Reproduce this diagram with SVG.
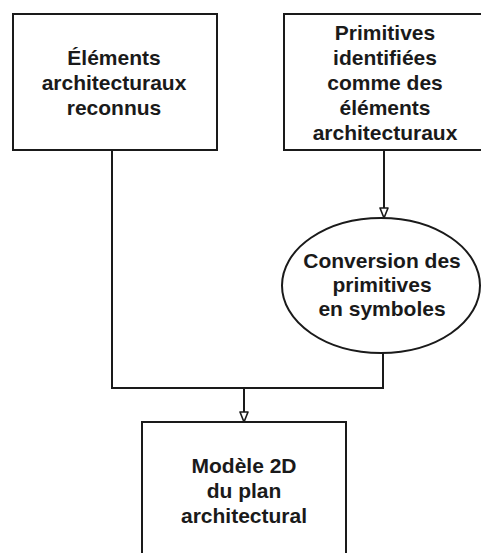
<svg xmlns="http://www.w3.org/2000/svg" width="481" height="553" viewBox="0 0 481 553">
<style>
.box{fill:#fff;stroke:#1a1a1a;stroke-width:2}
.ln{fill:none;stroke:#1a1a1a;stroke-width:2}
text{font-family:"Liberation Sans",Arial,sans-serif;font-weight:bold;font-size:21px;fill:#1a1a1a;text-anchor:middle}
</style>
<defs>
<marker id="arr" viewBox="0 0 12 10" refX="11" refY="5" markerWidth="12" markerHeight="10" markerUnits="userSpaceOnUse" orient="auto">
<path d="M1,1 L11,5 L1,9 Z" fill="#fff" stroke="#1a1a1a" stroke-width="1.6" stroke-linejoin="round"/>
</marker>
</defs>
<rect width="481" height="553" fill="#fff"/>
<g id="connectors">
<path class="ln" d="M112,150 V388 H383 V353"/>
<path class="ln" d="M384,150 V218" marker-end="url(#arr)"/>
<path class="ln" d="M244,388 V422" marker-end="url(#arr)"/>
</g>
<g id="n1">
<rect class="box" x="13" y="14" width="204" height="136"/>
<text x="114" y="65">Éléments</text>
<text x="114" y="90">architecturaux</text>
<text x="114" y="115">reconnus</text>
</g>
<g id="n2">
<rect class="box" x="284" y="14" width="200" height="136"/>
<text x="385" y="40">Primitives</text>
<text x="385" y="65">identifiées</text>
<text x="385" y="90">comme des</text>
<text x="385" y="115">éléments</text>
<text x="385" y="140">architecturaux</text>
</g>
<g id="n3">
<ellipse class="box" cx="381" cy="285.5" rx="99" ry="67.5"/>
<text x="382" y="268">Conversion des</text>
<text x="382" y="292">primitives</text>
<text x="382" y="316">en symboles</text>
</g>
<g id="n4">
<rect class="box" x="142" y="422" width="204" height="135"/>
<text x="244" y="473">Modèle 2D</text>
<text x="244" y="498">du plan</text>
<text x="244" y="523">architectural</text>
</g>
</svg>
